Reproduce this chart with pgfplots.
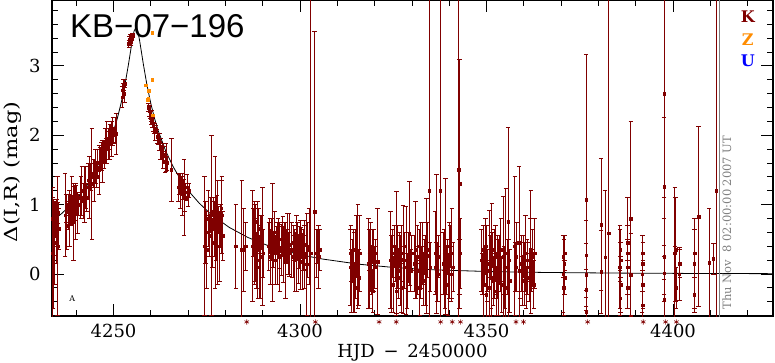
\documentclass[border=0pt]{standalone}
\usepackage{pgfplots}
\pgfplotsset{compat=1.18}
\usepackage{pgfplotstable}
\usepackage{graphicx}
\usepackage{fontspec}
\setmainfont{DejaVu Serif}
\newfontfamily\titlefont{Liberation Sans}
\definecolor{kred}{RGB}{128,0,0}
\definecolor{zorange}{RGB}{255,140,0}
\definecolor{ublue}{RGB}{0,0,255}

\pgfplotstableread{
x y e
4233.6 0.30 0.95
4233.7 0.80 0.30
4233.8 0.20 0.70
4233.9 0.70 0.25
4234.0 0.88 0.20
4234.1 0.62 0.35
4234.2 0.45 0.60
4234.3 0.90 0.15
4234.4 0.75 0.22
4234.5 0.85 0.18
4234.6 0.55 0.40
4234.7 0.95 0.12
4234.8 0.70 0.30
4234.9 0.80 0.20
4235.0 0.40 1.00
4235.1 0.88 0.15
4235.3 0.65 0.30
4237.0 0.85 0.60
4237.3 0.95 0.20
4237.5 0.70 0.35
4237.8 0.90 0.25
4238.0 1.00 0.15
4238.2 0.80 0.40
4238.5 0.92 0.20
4238.8 1.05 0.35
4239.0 0.95 0.18
4239.3 0.75 0.55
4239.5 1.02 0.25
4239.8 0.90 0.40
4240.0 1.08 0.20
4240.3 0.88 0.30
4240.6 1.00 0.15
4241.2 1.10 0.30
4241.5 1.20 0.35
4241.8 1.05 0.25
4242.2 1.15 0.40
4242.5 1.25 0.30
4242.8 1.10 0.20
4243.2 1.35 0.25
4243.5 1.25 0.45
4243.9 1.40 0.20
4244.2 1.30 0.80
4244.5 1.45 0.20
4244.8 1.35 0.30
4245.2 1.55 0.25
4245.5 1.40 0.15
4245.8 1.60 0.20
4246.1 1.50 0.35
4246.4 1.68 0.15
4246.8 1.70 0.20
4247.0 1.62 0.30
4247.2 1.78 0.15
4247.5 1.72 0.20
4247.7 1.85 0.25
4248.0 1.80 0.15
4248.2 1.90 0.30
4248.5 1.85 0.20
4248.7 1.95 0.15
4249.0 1.90 0.25
4249.3 2.00 0.15
4249.5 1.95 0.25
4249.8 2.05 0.20
4250.1 2.00 0.12
4250.4 2.08 0.18
4250.7 2.02 0.30
4252.3 2.55 0.15
4252.5 2.65 0.10
4252.7 2.72 0.08
4252.9 2.60 0.12
4253.0 2.75 0.06
4254.1 3.32 0.05
4254.3 3.38 0.04
4254.5 3.42 0.04
4254.7 3.35 0.05
4254.9 3.40 0.04
4255.1 3.44 0.03
4259.4 2.40 0.06
4259.6 2.35 0.08
4259.8 2.30 0.06
4260.0 2.25 0.10
4260.2 2.28 0.08
4260.4 2.18 0.07
4260.6 2.15 0.10
4260.9 2.10 0.08
4261.1 2.05 0.12
4261.4 2.08 0.06
4261.7 1.98 0.10
4262.0 1.95 0.08
4262.3 1.90 0.12
4262.6 1.80 0.15
4262.9 1.75 0.10
4263.2 1.70 0.18
4263.5 1.72 0.12
4263.8 1.62 0.15
4264.1 1.68 0.20
4264.4 1.60 0.10
4265.5 1.50 0.45
4267.3 1.25 0.20
4267.6 1.30 0.15
4267.9 1.20 0.25
4268.2 1.28 0.12
4268.5 1.15 0.30
4268.8 1.22 0.15
4268.9 1.10 0.55
4269.1 1.10 0.20
4269.4 1.18 0.12
4269.7 1.25 0.18
4270.0 1.12 0.15
4270.3 1.20 0.10
4274.4 0.40 1.00
4274.7 0.60 0.45
4275.0 0.35 0.55
4275.4 0.80 0.40
4275.7 0.55 0.30
4276.0 0.85 0.25
4276.3 0.70 1.30
4276.5 0.45 0.35
4276.8 0.90 0.20
4277.0 0.65 0.40
4277.2 0.75 0.95
4277.5 0.50 0.30
4277.7 0.88 0.25
4277.9 0.60 0.75
4278.2 0.78 0.20
4278.4 0.40 0.50
4278.7 0.70 0.30
4278.9 0.95 0.40
4279.0 0.85 0.55
4279.3 0.55 0.35
4282.8 0.40 0.60
4284.4 0.35 1.00
4284.8 0.35 0.60
4285.4 0.40 0.35
4287.3 0.40 0.80
4287.5 0.60 0.35
4287.7 0.30 0.45
4287.9 0.75 0.30
4288.1 0.45 0.55
4288.3 0.20 0.40
4288.5 0.55 0.25
4288.7 0.35 0.70
4288.9 0.65 0.30
4289.1 0.10 0.45
4289.3 0.50 0.20
4289.5 0.25 0.60
4289.7 0.60 0.25
4289.9 0.40 0.85
4290.1 0.30 0.35
4291.6 0.40 0.35
4291.9 0.55 0.25
4292.1 0.25 0.40
4292.4 0.50 0.30
4292.6 0.45 0.85
4292.9 0.35 0.25
4293.1 0.60 0.30
4293.4 0.20 0.35
4293.6 0.48 0.20
4293.9 0.30 0.45
4294.1 0.55 0.25
4294.4 0.38 0.30
4294.6 0.25 0.50
4294.9 0.50 0.22
4295.1 0.33 0.35
4295.4 0.58 0.25
4295.6 0.28 0.40
4295.9 0.45 0.30
4296.1 0.20 0.55
4296.4 0.40 0.25
4296.6 0.52 0.35
4296.9 0.30 0.30
4297.1 0.42 0.45
4297.8 0.35 0.40
4298.1 0.25 0.30
4298.3 0.45 0.25
4298.6 0.20 0.45
4298.8 0.40 0.20
4299.1 0.30 0.55
4299.3 0.50 0.25
4299.6 0.22 0.35
4299.8 0.38 0.30
4300.1 0.28 0.50
4300.3 0.45 0.22
4300.6 0.18 0.40
4300.8 0.35 0.30
4301.1 0.25 0.45
4301.3 0.42 0.35
4301.6 0.30 0.25
4301.8 0.14 0.73
4302.1 0.35 0.40
4302.4 0.40 0.55
4302.8 0.30 3.80
4303.9 0.90 2.60
4304.4 0.30 0.35
4304.7 0.40 0.25
4305.0 0.25 0.45
4305.3 0.35 0.30
4313.4 0.10 0.55
4313.6 0.30 0.40
4313.8 -0.10 0.45
4314.0 0.20 0.30
4314.2 0.05 0.60
4314.4 0.35 0.25
4314.6 -0.20 0.35
4314.9 0.15 0.50
4315.1 0.40 0.45
4315.3 0.00 0.35
4315.5 0.25 0.75
4315.7 -0.05 0.40
4316.0 0.30 0.55
4318.3 0.15 0.65
4318.5 0.35 0.30
4318.7 -0.10 0.40
4318.9 0.25 0.50
4319.1 0.05 0.35
4319.3 0.40 0.25
4319.5 -0.25 0.30
4319.8 0.20 0.45
4320.0 0.10 0.30
4320.3 0.30 0.20
4320.8 0.18 0.76
4324.3 0.20 0.70
4324.5 0.00 0.55
4324.8 0.30 0.35
4325.0 -0.15 0.40
4325.3 0.40 0.30
4325.6 0.15 0.25
4325.8 -0.25 0.35
4325.9 0.31 0.88
4326.1 0.25 0.45
4326.3 -0.05 0.30
4326.6 0.35 0.25
4326.8 0.05 0.50
4327.1 -0.20 0.35
4327.3 0.30 0.40
4327.6 0.21 0.78
4327.9 0.10 0.30
4328.1 0.40 0.20
4328.4 0.20 0.78
4328.7 -0.10 0.40
4329.0 0.25 0.35
4329.3 0.58 0.75
4329.6 0.05 0.30
4329.9 0.30 0.25
4330.6 0.15 0.40
4330.9 0.35 0.70
4331.1 -0.05 0.30
4331.4 0.25 0.45
4331.6 0.05 0.35
4331.9 0.40 0.25
4332.1 -0.20 0.40
4332.4 0.20 0.55
4332.6 0.10 0.30
4332.9 0.30 0.45
4333.1 -0.10 0.35
4333.4 0.25 0.25
4333.6 0.05 0.50
4333.9 0.26 0.83
4334.2 0.35 0.40
4334.6 1.20 3.00
4334.9 0.10 0.35
4336.2 0.30 0.60
4336.4 0.10 0.35
4336.6 0.43 1.00
4336.9 0.00 0.40
4337.1 0.25 0.30
4337.6 1.20 3.00
4338.4 0.15 0.45
4338.6 0.35 0.30
4338.8 -0.10 0.40
4339.0 0.40 0.98
4339.2 0.05 0.35
4339.5 0.25 0.25
4339.7 -0.15 0.45
4340.0 0.20 0.55
4340.2 0.40 0.30
4340.5 0.00 0.40
4340.7 0.30 0.65
4341.0 0.10 0.35
4342.6 1.50 2.50
4342.7 0.10 0.40
4342.8 1.30 1.80
4342.9 0.30 0.50
4348.7 0.20 0.45
4348.9 0.00 0.30
4349.1 0.35 0.35
4349.3 -0.15 0.50
4349.5 0.10 0.25
4349.7 0.40 0.40
4349.9 -0.30 0.35
4350.1 0.15 0.55
4350.3 0.05 0.30
4350.8 0.15 0.77
4350.7 -0.20 0.40
4351.0 0.25 0.30
4351.2 -0.05 0.45
4351.4 0.20 0.82
4351.6 0.35 0.25
4351.8 -0.10 0.35
4352.0 0.15 0.50
4352.2 0.00 0.30
4352.4 0.30 0.40
4352.6 -0.25 0.35
4352.8 0.10 0.45
4353.0 0.25 0.30
4353.2 -0.05 0.55
4353.4 0.20 0.35
4353.6 0.00 0.25
4353.8 0.35 0.45
4354.1 -0.15 0.40
4354.5 0.25 0.87
4354.7 0.05 0.35
4354.9 -0.20 0.30
4355.2 0.30 0.93
4355.5 0.10 0.40
4355.8 0.75 1.37
4356.0 0.20 0.30
4356.2 -0.10 0.45
4357.6 0.40 1.00
4357.8 0.10 0.35
4358.0 0.25 0.50
4358.7 0.45 1.10
4358.9 0.05 0.40
4359.4 0.15 0.40
4359.6 -0.10 0.35
4359.9 0.25 0.30
4360.1 0.00 0.45
4360.4 0.30 0.55
4360.6 -0.20 0.30
4360.9 0.10 0.40
4361.1 0.20 0.25
4361.4 -0.05 0.35
4361.7 0.35 0.45
4361.9 0.32 0.89
4362.1 0.05 0.30
4362.4 0.25 0.40
4362.7 -0.15 0.35
4362.9 0.30 0.50
4370.5 0.00 0.55
4370.6 0.25 0.30
4370.7 -0.20 0.40
4370.8 0.15 0.35
4370.9 -0.05 0.25
4371.0 0.30 0.25
4376.7 1.07 2.10
4376.7 0.27 0.50
4376.7 -0.01 0.45
4376.7 -0.23 0.30
4376.7 -0.54 0.20
4380.7 0.71 0.95
4380.7 0.03 0.60
4381.8 0.24 0.97
4382.7 0.59 3.40
4385.7 0.10 0.60
4385.8 0.35 0.30
4385.9 -0.15 0.40
4385.8 -0.35 0.25
4385.9 0.20 0.25
4387.8 0.30 0.80
4387.8 0.10 0.40
4387.9 -0.20 0.30
4387.8 0.45 0.25
4388.7 -0.01 0.60
4388.7 0.80 1.40
4391.7 0.00 0.55
4391.8 0.30 0.25
4391.9 -0.15 0.35
4391.8 -0.45 0.20
4391.9 0.15 0.30
4397.6 2.60 1.50
4397.6 1.26 1.00
4397.6 0.25 0.55
4397.6 0.01 0.40
4397.6 -0.37 0.30
4400.5 0.30 0.95
4400.7 0.35 0.75
4400.6 0.00 0.40
4400.8 -0.20 0.30
4401.7 0.00 0.38
4401.8 0.15 0.20
4405.7 0.15 0.65
4405.7 -0.30 0.25
4405.8 0.30 0.35
4406.8 0.83 1.30
4409.7 0.16 0.78
4410.8 0.22 0.22
4411.6 1.20 3.00
}\Kdata

\pgfplotstableread{
x y
4258.6 2.72
4259.2 2.51
4259.3 2.53
4259.5 2.64
4260.4 2.80
4260.4 3.48
4260.5 2.29
}\Zdata

\pgfplotstableread{
x y
4233.5 0.762
4236.0 0.867
4239.0 1.019
4241.5 1.172
4244.0 1.360
4246.0 1.544
4248.0 1.770
4250.0 2.060
4251.0 2.240
4252.0 2.455
4253.0 2.710
4254.0 3.020
4254.5 3.190
4255.0 3.360
4255.5 3.500
4256.0 3.550
4256.5 3.500
4257.0 3.360
4257.5 3.190
4258.0 3.020
4259.0 2.710
4260.0 2.455
4261.0 2.240
4262.0 2.060
4264.0 1.770
4266.0 1.544
4268.0 1.360
4270.5 1.172
4273.0 1.019
4276.0 0.867
4281.0 0.672
4286.0 0.527
4291.0 0.418
4296.0 0.333
4301.0 0.268
4306.0 0.216
4316.0 0.140
4326.0 0.090
4336.0 0.060
4351.0 0.035
4366.0 0.022
4386.0 0.013
4406.0 0.008
4426.8 0.005
}\Model

\pgfplotstableread{
x y
4285.7 -0.69
4304.1 -0.69
4321.2 -0.69
4325.8 -0.69
4337.7 -0.69
4340.8 -0.69
4343.0 -0.69
4357.9 -0.69
4359.9 -0.69
4377.1 -0.69
4392.0 -0.69
4398.0 -0.69
4400.9 -0.69
}\Stars

\pgfplotsset{myax/.style={width=721pt,height=316pt,scale only axis,
  xmin=4233.5,xmax=4426.8,ymin=-0.605,ymax=3.948}}

\begin{document}
\begin{tikzpicture}
\begin{axis}[myax,
  axis line style={line width=1.8pt},
  xtick={4250,4300,4350,4400}, ytick={0,1,2,3},
  minor xtick={4240,4250,...,4420},
  minor ytick={-0.4,-0.2,...,3.81},
  tick align=inside,
  major tick length=12pt, minor tick length=6pt,
  every tick/.style={black,line width=0.8pt},
  /pgf/number format/assume math mode=true,
  /pgf/number format/1000 sep={},
  tick label style={font=\fontsize{18}{18}\selectfont},
  xticklabel style={yshift=-5pt},
  yticklabel style={xshift=-8pt},
  xlabel={HJD \,−\, 2450000},
  ylabel={\scalebox{1.25}[1]{Δ(I,R) (mag)}},
  label style={font=\fontsize{18}{18}\selectfont},
  xlabel style={at={(axis description cs:0.5,0)},anchor=base,yshift=-41pt},
  ylabel style={at={(axis description cs:-0.0548,0.456)},anchor=center},
  error bars/error bar style={kred,line width=0.9pt},
  error bars/error mark options={kred,rotate=90,mark size=2.2pt,line width=0.7pt},
]
\addplot[black,line width=0.8pt] table[x=x,y=y]{\Model};
\addplot[only marks,mark=square*,mark size=1.3pt,kred,
  error bars/.cd,y dir=both,y explicit]
  table[x=x,y=y,y error=e]{\Kdata};
\addplot[only marks,mark=square*,mark size=1.3pt,zorange] table[x=x,y=y]{\Zdata};
\addplot[gray,line width=0.8pt] coordinates {(4412.4,-1) (4412.4,5)};
\node[anchor=base west,font=\titlefont\fontsize{33}{33}\selectfont,inner sep=0pt]
  at (axis description cs:0.025,0.88) {KB−07−196};
\node[font=\fontsize{16}{16}\selectfont\bfseries,text=kred] at (axis description cs:0.965,0.946) {K};
\node[font=\fontsize{16}{16}\selectfont\bfseries,text=zorange] at (axis description cs:0.965,0.873) {Z};
\node[font=\fontsize{16}{16}\selectfont\bfseries,text=ublue] at (axis description cs:0.965,0.807) {U};
\node[rotate=90,font=\fontsize{11.5}{11.5}\selectfont,text=gray] at (axis description cs:0.936,0.296) {Thu Nov\ \ 8 02:00:00 2007 UT};
\node[font=\fontsize{8}{8}\selectfont] at (axis cs:4238.9,-0.35) {A};
\end{axis}
\begin{axis}[myax,hide axis,clip=false]
\addplot[only marks,mark=asterisk,mark size=2.6pt,kred,line width=0.6pt] table[x=x,y=y]{\Stars};
\coordinate (bbll) at ([shift={(-52pt,-46pt)}]rel axis cs:0,0);
\coordinate (bbur) at ([shift={(2pt,0pt)}]rel axis cs:1,1);
\end{axis}
\pgfresetboundingbox
\useasboundingbox (bbll) rectangle (bbur);
\end{tikzpicture}
\end{document}
